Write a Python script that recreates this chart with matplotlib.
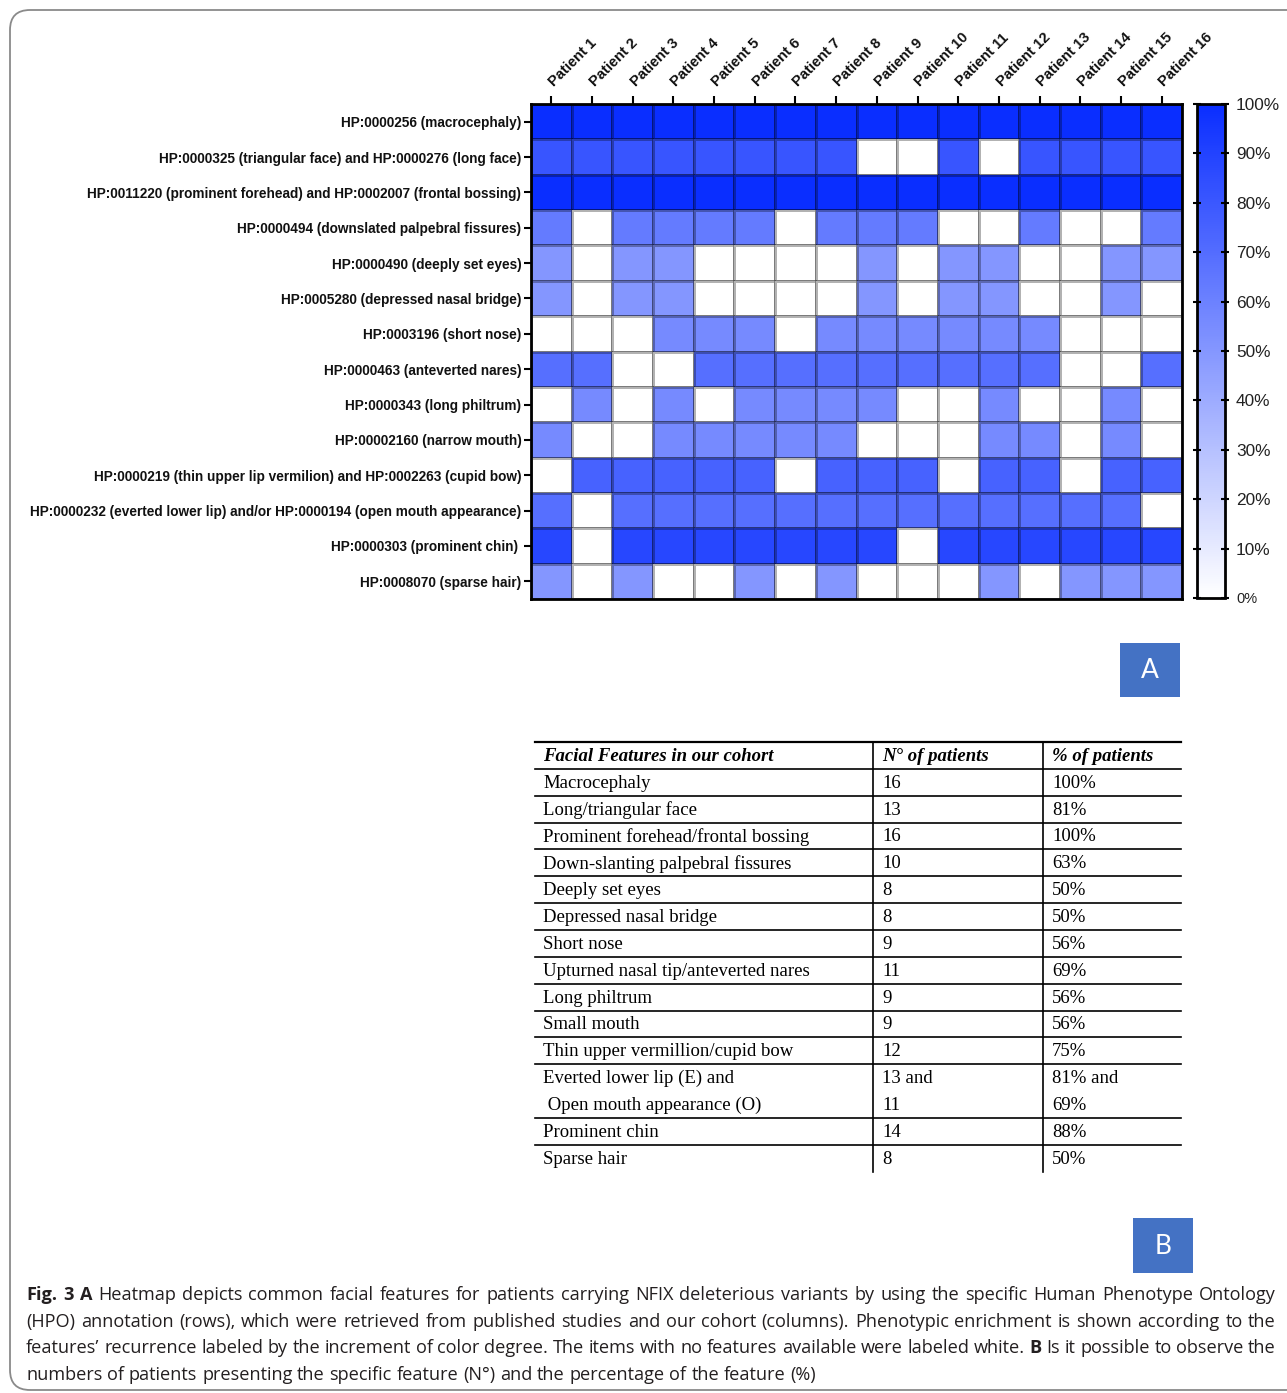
import numpy as np
import matplotlib
matplotlib.use("Agg")
import matplotlib.pyplot as plt
from matplotlib.colors import LinearSegmentedColormap
from matplotlib.patches import FancyBboxPatch, Rectangle
from matplotlib.lines import Line2D

W, H = 1287, 1393

patients = ["Patient 1", "Patient 2", "Patient 3", "Patient 4", "Patient 5", "Patient 6",
            "Patient 7", "Patient 8", "Patient 9", "Patient 10", "Patient 11", "Patient 12",
            "Patient 13", "Patient 14", "Patient 15", "Patient 16"]

hpo_terms = [
    "HP:0000256 (macrocephaly)",
    "HP:0000325 (triangular face) and HP:0000276 (long face)",
    "HP:0011220 (prominent forehead) and HP:0002007 (frontal bossing)",
    "HP:0000494 (downslated palpebral fissures)",
    "HP:0000490 (deeply set eyes)",
    "HP:0005280 (depressed nasal bridge)",
    "HP:0003196 (short nose)",
    "HP:0000463 (anteverted nares)",
    "HP:0000343 (long philtrum)",
    "HP:00002160 (narrow mouth)",
    "HP:0000219 (thin upper lip vermilion) and HP:0002263 (cupid bow)",
    "HP:0000232 (everted lower lip) and/or HP:0000194 (open mouth appearance)",
    "HP:0000303 (prominent chin) ",
    "HP:0008070 (sparse hair)",
]

# colour level of each row (% of patients)
row_pct = [100, 81, 100, 63, 50, 50, 56, 69, 56, 56, 75, 69, 88, 50]

# 1 = feature present, 0 = white cell
presence = [
    [1, 1, 1, 1, 1, 1, 1, 1, 1, 1, 1, 1, 1, 1, 1, 1],
    [1, 1, 1, 1, 1, 1, 1, 1, 0, 0, 1, 0, 1, 1, 1, 1],
    [1, 1, 1, 1, 1, 1, 1, 1, 1, 1, 1, 1, 1, 1, 1, 1],
    [1, 0, 1, 1, 1, 1, 0, 1, 1, 1, 0, 0, 1, 0, 0, 1],
    [1, 0, 1, 1, 0, 0, 0, 0, 1, 0, 1, 1, 0, 0, 1, 1],
    [1, 0, 1, 1, 0, 0, 0, 0, 1, 0, 1, 1, 0, 0, 1, 0],
    [0, 0, 0, 1, 1, 1, 0, 1, 1, 1, 1, 1, 1, 0, 0, 0],
    [1, 1, 0, 0, 1, 1, 1, 1, 1, 1, 1, 1, 1, 0, 0, 1],
    [0, 1, 0, 1, 0, 1, 1, 1, 1, 0, 0, 1, 0, 0, 1, 0],
    [1, 0, 0, 1, 1, 1, 1, 1, 0, 0, 0, 1, 1, 0, 1, 0],
    [0, 1, 1, 1, 1, 1, 0, 1, 1, 1, 0, 1, 1, 0, 1, 1],
    [1, 0, 1, 1, 1, 1, 1, 1, 1, 1, 1, 1, 1, 1, 1, 0],
    [1, 0, 1, 1, 1, 1, 1, 1, 1, 0, 1, 1, 1, 1, 1, 1],
    [1, 0, 1, 0, 0, 1, 0, 1, 0, 0, 0, 1, 0, 1, 1, 1],
]

cbar_ticks = [0, 10, 20, 30, 40, 50, 60, 70, 80, 90, 100]

table_header = ["Facial Features in our cohort", "N° of patients", "% of patients"]
table_features = ["Macrocephaly", "Long/triangular face", "Prominent forehead/frontal bossing",
                  "Down-slanting palpebral fissures", "Deeply set eyes", "Depressed nasal bridge",
                  "Short nose", "Upturned nasal tip/anteverted nares", "Long philtrum",
                  "Small mouth", "Thin upper vermillion/cupid bow",
                  "Everted lower lip (E) and\n Open mouth appearance (O)",
                  "Prominent chin", "Sparse hair"]
table_n = ["16", "13", "16", "10", "8", "8", "9", "11", "9", "9", "12", "13 and\n11", "14", "8"]
table_pct = ["100%", "81%", "100%", "63%", "50%", "50%", "56%", "69%", "56%", "56%", "75%",
             "81% and\n69%", "88%", "50%"]

caption = [
    [("Fig. 3", True), ("A", True), ("Heatmap depicts common facial features for patients carrying NFIX "
     "deleterious variants by using the specific Human Phenotype Ontology", False)],
    [("(HPO) annotation (rows), which were retrieved from published studies and our cohort (columns). "
      "Phenotypic enrichment is shown according to the", False)],
    [("features\u2019 recurrence labeled by the increment of color degree. The items with no features "
      "available were labeled white.", False), ("B", True), ("Is it possible to observe the", False)],
    [("numbers of patients presenting the specific feature (N\u00b0) and the percentage of the feature (%)", False)],
]


def fx(x):
    return x / W


def fy(y):
    return 1 - y / H


fig = plt.figure(figsize=(W / 100, H / 100), dpi=100)
fig.patch.set_facecolor("white")

# rounded frame, open on the right
frame = FancyBboxPatch((0.10, 0.03), 13.5, 13.80, boxstyle="round,pad=0,rounding_size=0.2",
                       transform=fig.dpi_scale_trans, facecolor="none", edgecolor="#8a8a8a",
                       linewidth=1.3, clip_on=False)
fig.add_artist(frame)

# ---- heatmap (A) ----
cmap = LinearSegmentedColormap.from_list("wb", [(1, 1, 1), (0.04, 0.18, 1.0)])
values = np.array(presence) * np.array(row_pct)[:, None]

ax = fig.add_axes([fx(531), fy(599), (1182 - 531) / W, (599 - 104) / H])
mesh = ax.pcolormesh(np.arange(17), np.arange(15), values, cmap=cmap, vmin=0, vmax=100,
                     edgecolors=(0, 0, 0, 0.3), linewidth=0.8)
ax.set_xlim(0, 16)
ax.set_ylim(14, 0)
ax.xaxis.tick_top()
ax.set_xticks(np.arange(16) + 0.5)
ax.set_xticklabels(patients, rotation=45, ha="left", va="center", rotation_mode="anchor",
                   fontweight="bold", fontsize=10.6, family="Liberation Sans")
ax.set_yticks(np.arange(14) + 0.5)
ax.set_yticklabels(hpo_terms, fontweight="bold", fontsize=9.85, family="Liberation Sans")
ax.tick_params(axis="x", length=6, width=1.5, pad=8, top=True, bottom=False, colors="black",
               labelcolor="#111111")
ax.tick_params(axis="y", length=5, width=1.5, pad=2, labelcolor="#111111")
for s in ax.spines.values():
    s.set_linewidth(2)

cax = fig.add_axes([fx(1197), fy(598), 28 / W, (598 - 104) / H])
cb = fig.colorbar(mesh, cax=cax, ticks=cbar_ticks)
cb.outline.set_linewidth(2)
cb.ax.set_yticklabels(["%d%%" % t for t in cbar_ticks], family="Liberation Sans", fontsize=12.4,
                      color="#222222")
cb.ax.get_yticklabels()[0].set_fontsize(10.5)
cax.tick_params(axis="y", direction="inout", length=6, width=1.5, left=True, right=True, pad=5)

# panel tags
for (x0, y0, x1, y1, lab) in [(1120, 643, 1180, 697, "A"), (1133, 1218, 1193, 1273, "B")]:
    fig.add_artist(Rectangle((fx(x0), fy(y1)), fx(x1) - fx(x0), fy(y0) - fy(y1),
                             transform=fig.transFigure, facecolor="#4472C4", edgecolor="none"))
    fig.text(fx((x0 + x1) / 2), fy((y0 + y1) / 2 + 1), lab, color="white", fontsize=19,
             family="Lato", ha="center", va="center")

# ---- table (B) ----
tx0, tx1 = 535, 1181
col_x = [543, 882, 1052]
sep_x = [873, 1043]
row_h = 26.85
y = 742
tfont = dict(family="Liberation Serif", fontsize=13.5, color="black")


def hline(yy, lw):
    fig.add_artist(Line2D([fx(tx0), fx(tx1)], [fy(yy), fy(yy)], transform=fig.transFigure,
                          color="black", linewidth=lw))


hline(y, 1.6)
for c, h in zip(col_x, table_header):
    fig.text(fx(c), fy(y + row_h / 2 + 1), h, ha="left", va="center", fontweight="bold",
             fontstyle="italic", **tfont)
y += row_h
for f, n, p in zip(table_features, table_n, table_pct):
    hline(y, 1.2)
    nlines = f.count("\n") + 1
    for k in range(nlines):
        cy = y + row_h * k + row_h / 2 + 1
        for c, txt in zip(col_x, (f, n, p)):
            fig.text(fx(c), fy(cy), txt.split("\n")[k], ha="left", va="center", **tfont)
    y += row_h * nlines
for sx in sep_x:
    fig.add_artist(Line2D([fx(sx), fx(sx)], [fy(742), fy(y)], transform=fig.transFigure,
                          color="black", linewidth=1.2))

# ---- caption ----
renderer = fig.canvas.get_renderer()
cfont = dict(family="Open Sans", color="#231f20")
probe = fig.text(0, 0, caption[3][0][0], fontsize=14, **cfont)
csize = 14 * (819 - 26) / probe.get_window_extent(renderer).width
probe.remove()

cap_left, cap_right = 26, 1276
cap_y = [1295, 1322, 1348, 1375]
for li, (segs, yy) in enumerate(zip(caption, cap_y)):
    words = []
    for txt, bold in segs:
        for w in txt.split():
            words.append((w, bold))
    arts = [fig.text(0, fy(yy), w, fontsize=csize, fontweight="bold" if b else "normal",
                     ha="left", va="center", **cfont) for w, b in words]
    widths = [a.get_window_extent(renderer).width for a in arts]
    if li < len(caption) - 1:
        gap = (cap_right - cap_left - sum(widths)) / (len(arts) - 1)
    else:
        sp = fig.text(0, 0, "a a", fontsize=csize, **cfont)
        sp2 = fig.text(0, 0, "aa", fontsize=csize, **cfont)
        gap = sp.get_window_extent(renderer).width - sp2.get_window_extent(renderer).width
        sp.remove()
        sp2.remove()
    xx = cap_left
    for a, wd in zip(arts, widths):
        a.set_x(fx(xx))
        xx += wd + gap

fig.savefig("out.png", dpi=100)
